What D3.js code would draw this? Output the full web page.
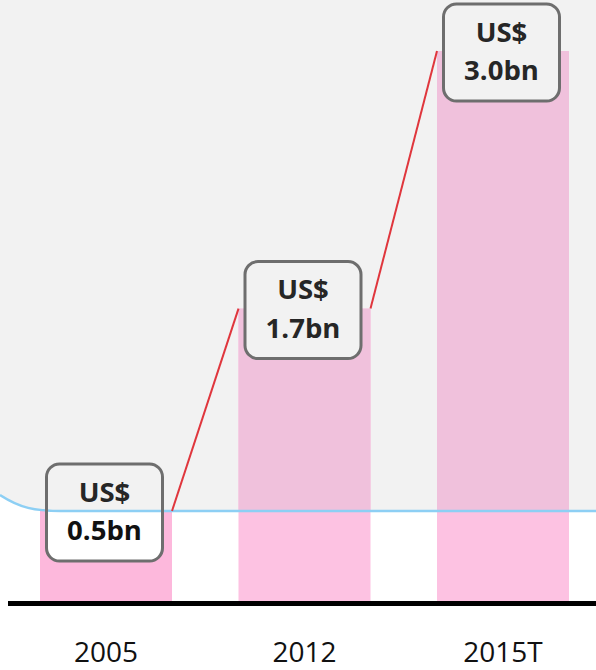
<!DOCTYPE html>
<html><head><meta charset="utf-8">
<script src="https://cdn.jsdelivr.net/npm/d3@7"></script>
<style>html,body{margin:0;padding:0;background:#fff;}svg{display:block;}</style>
</head><body>
<svg id="chart" width="596" height="670"></svg>
<script>
const categories = ["2005", "2012", "2015T"];
const values = [0.5, 1.6, 3.0];
const currencyLabel = "US$";
const valueLabels = ["0.5bn", "1.7bn", "3.0bn"];
const barColors = ["#fdb8dc", "#fdc2e2", "#fdc2e2"];
const barColorsShaded = ["#f0c0da", "#f0c1dc", "#f0c1dc"];
const valueTextColors = ["#111111", "#262626", "#262626"];

const W = 596, H = 670;
const svg = d3.select("#chart");

const x = d3.scaleBand().domain(categories).range([6.75, 602.25])
  .paddingInner(0.335).paddingOuter(0.1675);
const y = d3.scaleLinear().domain([0, 3.0]).range([603, 51]);

const lineY = y(values[0]);
svg.append("rect").attr("width", W).attr("height", H).attr("fill", "#ffffff");
const greyPath = `M0,0 L${W},0 L${W},${lineY} L60,${lineY} C35,${lineY} 20,${lineY-3} 0,${lineY-16} Z`;
svg.append("defs").append("clipPath").attr("id", "greyClip")
  .append("path").attr("d", greyPath);
svg.append("path").attr("d", greyPath).attr("fill", "#f2f2f2");

svg.append("g").selectAll("rect").data(categories).join("rect")
  .attr("x", d => x(d)).attr("width", x.bandwidth())
  .attr("y", (d, i) => y(values[i])).attr("height", (d, i) => y(0) - y(values[i]))
  .attr("fill", (d, i) => barColors[i]);
svg.append("g").attr("clip-path", "url(#greyClip)").selectAll("rect").data(categories).join("rect")
  .attr("x", d => x(d)).attr("width", x.bandwidth())
  .attr("y", (d, i) => y(values[i])).attr("height", (d, i) => y(0) - y(values[i]))
  .attr("fill", (d, i) => barColorsShaded[i]);

const boxW = 116, boxH = 97;
const bx = d => x(d) + x.bandwidth() / 2 - 1.5 - boxW / 2;
const by = (d, i) => y(values[i]) + 1.5 - boxH / 2;

svg.append("g").selectAll("rect").data(categories).join("rect")
  .attr("x", bx).attr("y", by).attr("width", boxW).attr("height", boxH)
  .attr("rx", 13).attr("fill", "#ffffff");
svg.append("g").attr("clip-path", "url(#greyClip)").selectAll("rect").data(categories).join("rect")
  .attr("x", bx).attr("y", by).attr("width", boxW).attr("height", boxH)
  .attr("rx", 13).attr("fill", "#f2f2f2");

svg.append("path")
  .attr("d", `M0,${lineY-16} C20,${lineY-3} 35,${lineY} 60,${lineY} L${W},${lineY}`)
  .attr("fill", "none").attr("stroke", "#8dcff4").attr("stroke-width", 2.5);

const links = d3.pairs(categories.map((c, i) => ({c, i})));
svg.append("g").selectAll("line").data(links).join("line")
  .attr("x1", d => x(d[0].c) + x.bandwidth()).attr("y1", d => y(values[d[0].i]))
  .attr("x2", d => x(d[1].c)).attr("y2", d => y(values[d[1].i]))
  .attr("stroke", "#e0363d").attr("stroke-width", 2);

svg.append("g").selectAll("rect").data(categories).join("rect")
  .attr("x", bx).attr("y", by).attr("width", boxW).attr("height", boxH)
  .attr("rx", 13).attr("fill", "none").attr("stroke", "#6e6e6e").attr("stroke-width", 3);

const tg = svg.append("g").attr("font-family", "'Open Sans', sans-serif")
  .attr("font-weight", "bold").attr("font-size", 27.5).attr("text-anchor", "middle");
tg.selectAll("text.cur").data(categories).join("text").attr("class", "cur")
  .attr("x", d => x(d) + x.bandwidth() / 2 - 1.5)
  .attr("y", (d, i) => y(values[i]) - 9.5)
  .attr("fill", "#262626").text(currencyLabel);
tg.selectAll("text.val").data(categories).join("text").attr("class", "val")
  .attr("x", d => x(d) + x.bandwidth() / 2 - 1.5)
  .attr("y", (d, i) => y(values[i]) + 29)
  .attr("fill", (d, i) => valueTextColors[i]).text((d, i) => valueLabels[i]);

const axis = svg.append("g").attr("transform", `translate(0,${y(0)})`)
  .call(d3.axisBottom(x).tickSize(0).tickPadding(0));
axis.select(".domain").remove();
svg.append("line").attr("x1", 8).attr("x2", W).attr("y1", y(0) + 0.5).attr("y2", y(0) + 0.5)
  .attr("stroke", "#000").attr("stroke-width", 5);
axis.selectAll(".tick text")
  .attr("font-family", "'Open Sans', sans-serif").attr("font-size", 28)
  .attr("fill", "#111").attr("dy", 0).attr("y", 59);
</script>
</body></html>
